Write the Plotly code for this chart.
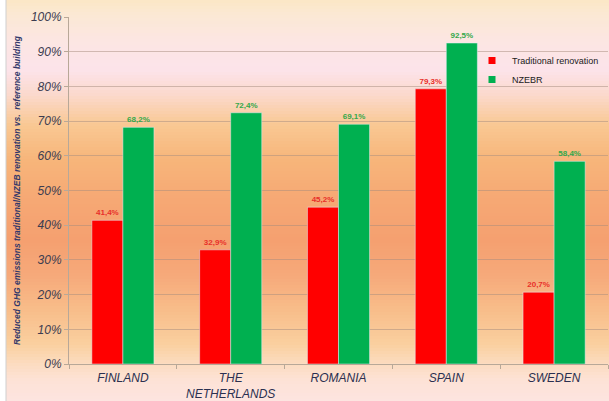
import plotly.graph_objects as go

countries = ["FINLAND", "THE<br>NETHERLANDS", "ROMANIA", "SPAIN", "SWEDEN"]
traditional = [41.4, 32.9, 45.2, 79.3, 20.7]
nzebr = [68.2, 72.4, 69.1, 92.5, 58.4]
series_names = ["Traditional renovation", "NZEBR"]
y_ticks = [0, 10, 20, 30, 40, 50, 60, 70, 80, 90, 100]
y_title = "Reduced GHG emissions traditional/NZEB renovation vs.  reference building"

RED = "#ff0000"
GREEN = "#00b050"
W, H = 609, 401
ML, MR, MT, MB = 69, 1, 17, 37
PW, PH = W - ML - MR, H - MT - MB


def fmt(v):
    return f"{v:.1f}%".replace(".", ",")


def px_to_paper_x(px):
    return (px - ML) / PW


def px_to_paper_y(py):
    return (H - MB - py) / PH


# background gradient stops (pixel row, colour)
stops = [
    (0, (251, 231, 198)), (15, (251, 232, 212)), (40, (252, 230, 226)),
    (70, (252, 227, 234)), (95, (251, 217, 204)), (125, (249, 200, 147)),
    (160, (247, 181, 122)), (200, (246, 168, 116)), (240, (245, 160, 112)),
    (275, (246, 169, 122)), (310, (248, 189, 138)), (345, (250, 208, 160)),
    (364, (252, 220, 192)), (380, (253, 226, 214)), (401, (253, 228, 224)),
]


def color_at(py):
    for (y0, c0), (y1, c1) in zip(stops[:-1], stops[1:]):
        if y0 <= py <= y1:
            t = (py - y0) / (y1 - y0) if y1 > y0 else 0
            return "rgb(%d,%d,%d)" % tuple(round(a + (b - a) * t) for a, b in zip(c0, c1))
    return "rgb(%d,%d,%d)" % stops[-1][1]


shapes = []
step = 3
for py in range(0, H, step):
    shapes.append(dict(
        type="rect", xref="paper", yref="paper", layer="below",
        x0=px_to_paper_x(6), x1=px_to_paper_x(W + 2),
        y0=px_to_paper_y(py + step + 0.5), y1=px_to_paper_y(py),
        fillcolor=color_at(py + step / 2), line=dict(width=0),
    ))
shapes.append(dict(
    type="line", xref="paper", yref="paper", layer="below",
    x0=px_to_paper_x(6), x1=px_to_paper_x(6),
    y0=px_to_paper_y(H), y1=px_to_paper_y(0),
    line=dict(color="#cfcfcf", width=1),
))

fig = go.Figure()
fig.add_trace(go.Bar(
    x=countries, y=traditional, name=series_names[0], marker_color=RED,
    text=[fmt(v) for v in traditional], textposition="outside",
    textfont=dict(color="#e8302a", size=8, family="Liberation Sans", weight="bold"),
    showlegend=False, cliponaxis=False,
))
fig.add_trace(go.Bar(
    x=countries, y=nzebr, name=series_names[1], marker_color=GREEN,
    text=[fmt(v) for v in nzebr], textposition="outside",
    textfont=dict(color="#34a84a", size=8, family="Liberation Sans", weight="bold"),
    showlegend=False, cliponaxis=False,
))
for name, col in zip(series_names, [RED, GREEN]):
    fig.add_trace(go.Scatter(
        x=[None], y=[None], mode="markers", name=name,
        marker=dict(symbol="square", size=7, color=col),
    ))

fig.update_layout(
    width=W, height=H,
    margin=dict(l=ML, r=MR, t=MT, b=MB, autoexpand=False),
    paper_bgcolor="white", plot_bgcolor="rgba(0,0,0,0)",
    barmode="group", bargap=0.424, bargroupgap=0,
    shapes=shapes,
    font=dict(family="Liberation Sans"),
    legend=dict(
        x=px_to_paper_x(472), y=px_to_paper_y(46), xanchor="left", yanchor="top",
        bgcolor="rgba(0,0,0,0)", font=dict(size=9, color="#1a1a1a", family="Liberation Sans"),
        tracegroupgap=0, itemwidth=30,
    ),
    xaxis=dict(
        showgrid=False, showline=True, linecolor="#b8a898", linewidth=1,
        ticks="outside", ticklen=4, tickcolor="#b8a898", tickson="boundaries",
        tickfont=dict(size=12, color="#2b3050", style="italic"),
        ticklabelstandoff=3,
        range=[-0.5, 4.5],
    ),
    yaxis=dict(
        range=[0, 100], tickvals=y_ticks, ticktext=[f"{v}%" for v in y_ticks],
        showgrid=True, gridcolor="rgba(165,140,125,0.5)", gridwidth=1,
        showline=True, linecolor="#b8a898", linewidth=1,
        ticks="outside", ticklen=4, tickcolor="#b8a898",
        tickfont=dict(size=12, color="#3c3c50", style="italic"),
        zeroline=False,
        title=dict(text=y_title, standoff=8,
                   font=dict(size=8.5, color="#33386a", style="italic", weight="bold")),
    ),
)

fig.write_html("out.html")
